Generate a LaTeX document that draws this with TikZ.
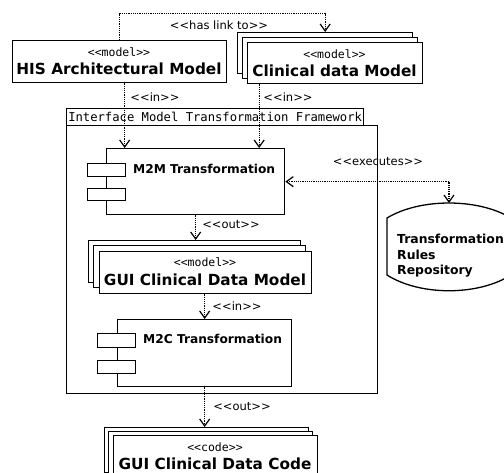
\documentclass[tikz,border=0pt]{standalone}
\usepackage{fontspec}
\setmainfont{DejaVu Sans}
\setmonofont{DejaVu Sans Mono}
\usetikzlibrary{arrows.meta}
\tikzset{
  boxa/.style={draw, line width=1.3pt, fill=white, inner sep=0pt, anchor=north west, align=center},
  tipv/.tip={Straight Barb[length=7pt,width=10pt,line width=1.2pt]},
  conn/.style={line width=1.2pt, densely dotted, -tipv},
  conn2/.style={line width=1.2pt, densely dotted, tipv-tipv},
  lbl/.style={font=\fontsize{11.5}{13}\selectfont, inner sep=0pt},
  ctitle/.style={font=\fontsize{12.2}{14}\selectfont\bfseries, inner sep=0pt, anchor=west},
  stereo/.style={font=\fontsize{11.5}{12}\selectfont\ttfamily, inner sep=0pt},
  mtitle/.style={font=\fontsize{15.3}{17}\selectfont\bfseries, inner sep=0pt},
}
\newcommand{\LLt}{<\kern0pt<}
\newcommand{\GGt}{>\kern0pt>}
\begin{document}
\begin{tikzpicture}[x=1pt,y=-1pt]
\useasboundingbox (0,0) rectangle (504,472);
\clip (0,0) rectangle (504,472);
\fill[white] (0,0) rectangle (504,472);

% HIS model
\node[boxa, minimum width=214pt, minimum height=42pt] (his) at (12,40) {};
\node[stereo] (hiss) at (119,52) {\LLt model\GGt};
\node[mtitle] (hist) at (119,69) {HIS Architectural Model};

% Clinical data model (stacked)
\node[boxa, minimum width=175pt, minimum height=41pt] (cdback) at (237,32) {};
\node[boxa, minimum width=175pt, minimum height=41pt] (cdmid) at (242,37) {};
\node[boxa, minimum width=175pt, minimum height=41pt] (cd) at (247,42) {};
\node[stereo] (cds) at (334.5,54) {\LLt model\GGt};
\node[mtitle] (cdt) at (334.5,71) {Clinical data Model};

% Framework package
\node[boxa, minimum width=297pt, minimum height=17pt, font=\fontsize{12.2}{13}\selectfont\ttfamily] (tab) at (66,108)
  {Interface Model Transformation Framework};
\node[boxa, fill=none, minimum width=311pt, minimum height=268pt] (fw) at (66,125) {};

% M2M component
\node[boxa, minimum width=178pt, minimum height=66pt] (m2m) at (106,148) {};
\node[boxa, minimum width=38pt, minimum height=13pt] (m2ma) at (87,163) {};
\node[boxa, minimum width=38pt, minimum height=12pt] (m2mb) at (87,188) {};
\node[ctitle] (m2mt) at (133,169) {M2M Transformation};

% GUI Clinical Data Model (stacked)
\node[boxa, minimum width=212pt, minimum height=42pt] (gmback) at (88,240) {};
\node[boxa, minimum width=212pt, minimum height=42pt] (gmmid) at (93,245) {};
\node[boxa, minimum width=212pt, minimum height=42pt] (gm) at (99,251) {};
\node[stereo] (gms) at (205,262) {\LLt model\GGt};
\node[mtitle] (gmt) at (205,280) {GUI Clinical Data Model};

% M2C component
\node[boxa, minimum width=174pt, minimum height=67pt] (m2c) at (117,319) {};
\node[boxa, minimum width=38pt, minimum height=14pt] (m2ca) at (97,333) {};
\node[boxa, minimum width=38pt, minimum height=13pt] (m2cb) at (97,360) {};
\node[ctitle] (m2ct) at (143,339) {M2C Transformation};

% GUI Clinical Data Code (stacked)
\node[boxa, minimum width=204pt, minimum height=45pt] (gcback) at (104,427) {};
\node[boxa, minimum width=204pt, minimum height=45pt] (gcmid) at (108,431) {};
\node[boxa, minimum width=204pt, minimum height=45pt] (gc) at (113,435) {};
\node[stereo] (gcs) at (215,447) {\LLt code\GGt};
\node[mtitle] (gct) at (215,464) {GUI Clinical Data Code};

% Repository
\draw[line width=1.3pt, fill=white] (387,218) .. controls (420,198) and (478,198) .. (511,218)
  -- (511,275) .. controls (478,296) and (420,296) .. (387,275) -- cycle;
\coordinate (repotop) at (449,203);
\node[inner sep=0pt, anchor=north west, align=left, font=\fontsize{12.4}{15.5}\selectfont\bfseries] (repo) at (397,234)
  {Transformation\\Rules\\Repository};

% Connectors
\draw[conn] (his.north) -- ++(0,-26.5) -| (cdback.north);
\node[lbl] (l1) at (219,25) {\LLt has link to\GGt};

\draw[conn] ([xshift=5pt]his.south) -- ([xshift=5pt]his.south |- m2m.north);
\node[lbl] (l2) at (155,97) {\LLt in\GGt};
\draw[conn] ([xshift=-76pt]cd.south) -- ([xshift=-76pt]cd.south |- m2m.north);
\node[lbl] (l3) at (288,97) {\LLt in\GGt};

\draw[conn2] (m2m.east) -| (repotop);
\node[lbl] (l4) at (378,162) {\LLt executes\GGt};

\draw[conn] (m2m.south) -- (m2m.south |- gmback.north);
\node[lbl] (l5) at (231,225) {\LLt out\GGt};

\draw[conn] ([xshift=-1pt]gm.south) -- ([xshift=-1pt]gm.south |- m2c.north);
\node[lbl] (l6) at (237,306) {\LLt in\GGt};

\draw[conn] (m2c.south) -- (m2c.south |- gcback.north);
\node[lbl] (l7) at (242,407) {\LLt out\GGt};
\end{tikzpicture}
\end{document}
